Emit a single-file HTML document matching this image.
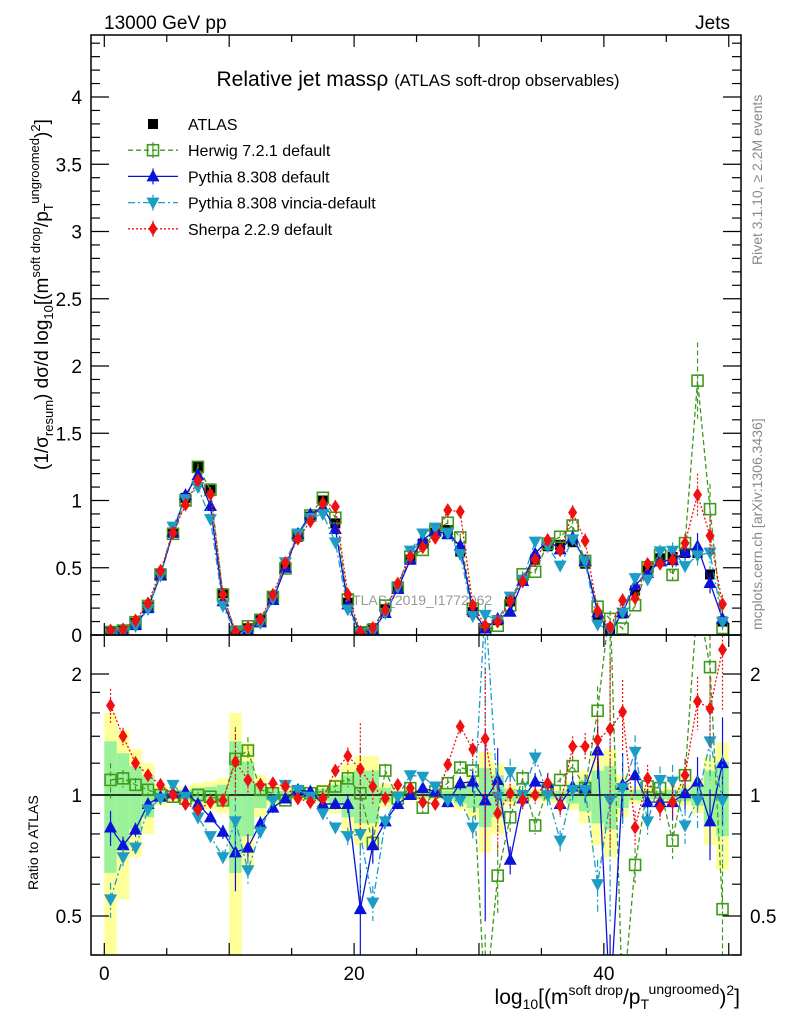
<!DOCTYPE html>
<html><head><meta charset="utf-8"><style>
html,body{margin:0;background:#fff;overflow:hidden;width:786px;height:1024px;}
svg{display:block;font-family:"Liberation Sans",sans-serif;}
</style></head><body>
<svg id="c" width="786" height="1024" xmlns="http://www.w3.org/2000/svg">
<defs>
<clipPath id="cm"><rect x="91" y="35" width="650" height="600"/></clipPath>
<clipPath id="cr"><rect x="91" y="635" width="650" height="320"/></clipPath>
</defs>
<text x="104" y="29" font-size="19">13000 GeV pp</text>
<text x="730" y="29" font-size="19" text-anchor="end">Jets</text>
<text x="418" y="86" font-size="21" text-anchor="middle">Relative jet massρ <tspan font-size="16.5">(ATLAS soft-drop observables)</tspan></text>
<text x="418" y="605" font-size="14" fill="#999" text-anchor="middle">ATLAS_2019_I1772062</text>
<text transform="translate(762,265) rotate(-90)" font-size="14" fill="#888">Rivet 3.1.10, ≥ 2.2M events</text>
<text transform="translate(762,630) rotate(-90)" font-size="14" fill="#888">mcplots.cern.ch [arXiv:1306.3436]</text>
<text transform="translate(48,470) rotate(-90)" font-size="19">(1/σ<tspan font-size="13" dy="5">resum</tspan><tspan dy="-5">) dσ/d log</tspan><tspan font-size="13" dy="5">10</tspan><tspan dy="-5">[(m</tspan><tspan font-size="13" dy="-8">soft drop</tspan><tspan dy="8">/p</tspan><tspan font-size="13" dy="5">T</tspan><tspan font-size="13" dy="-14">ungroomed</tspan><tspan dy="9">)</tspan><tspan font-size="13" dy="-8">2</tspan><tspan dy="8">]</tspan></text>
<text transform="translate(38,890) rotate(-90)" font-size="14">Ratio to ATLAS</text>
<text x="740" y="1004" font-size="21" text-anchor="end">log<tspan font-size="14" dy="5">10</tspan><tspan dy="-5">[(m</tspan><tspan font-size="14" dy="-9">soft drop</tspan><tspan dy="9">/p</tspan><tspan font-size="14" dy="5">T</tspan><tspan font-size="14" dy="-15">ungroomed</tspan><tspan dy="10">)</tspan><tspan font-size="14" dy="-9">2</tspan><tspan dy="9">]</tspan></text>
<g id="bands" clip-path="url(#cr)"></g>
<g id="mainMarks" clip-path="url(#cm)"></g>
<g id="ratioMarks" clip-path="url(#cr)"></g>
<g id="axes"></g>
<g id="legend"></g>
</svg>
<script>
const atlas=[0.02,0.03,0.09,0.21,0.45,0.76,1.02,1.25,1.09,0.31,0.02,0.05,0.11,0.28,0.51,0.73,0.88,1.0,0.83,0.24,0.02,0.05,0.19,0.36,0.56,0.68,0.76,0.78,0.62,0.17,0.05,0.11,0.25,0.41,0.56,0.66,0.67,0.69,0.53,0.13,0.04,0.16,0.33,0.48,0.57,0.58,0.61,0.61,0.45,0.1];
const herwigRatio=[1.09,1.1,1.06,1.03,1.0,0.99,0.98,1.0,0.99,0.97,1.23,1.29,1.03,1.01,0.97,1.02,1.01,1.02,1.05,1.1,1.01,0.76,1.15,0.98,1.04,0.93,1.02,1.07,1.17,1.15,0.3,0.63,0.88,1.1,0.84,1.03,1.09,1.18,1.04,1.62,3.0,0.3,0.67,1.05,1.04,0.77,1.12,3.1,2.08,0.52];
const pythiaRatio=[0.83,0.75,0.82,0.95,0.99,1.01,1.02,0.95,0.88,0.81,0.72,0.74,0.85,0.93,0.98,1.03,1.02,0.95,0.95,0.95,0.52,0.75,0.86,0.95,1.0,1.04,1.02,0.96,1.07,1.08,0.97,1.09,0.69,0.98,1.08,1.07,0.95,1.05,1.04,1.29,0.3,1.06,1.12,0.96,0.96,0.96,1.01,1.08,0.86,1.2];
const vinciaRatio=[0.55,0.7,0.74,0.92,0.98,1.06,0.99,0.88,0.79,0.7,0.86,0.65,0.81,0.97,1.06,1.03,0.99,0.9,0.83,0.79,0.8,0.54,0.86,0.99,1.12,1.11,1.05,0.97,0.97,0.83,3.0,0.99,1.14,1.0,1.24,1.0,0.77,1.03,1.03,0.6,0.97,1.04,1.28,0.86,1.09,1.08,0.84,0.97,1.36,0.97];
const sherpaRatio=[1.67,1.4,1.2,1.12,1.06,1.0,0.95,0.92,0.96,0.97,1.21,1.09,1.06,1.07,1.05,0.98,0.96,0.98,1.15,1.25,1.16,1.05,0.98,1.06,1.04,0.96,0.95,1.19,1.48,1.3,1.38,0.9,1.01,0.97,1.0,1.07,0.94,1.32,1.32,1.37,1.46,1.61,0.83,1.1,0.93,0.96,1.12,1.71,1.64,2.3];
const totErr=[0.6,0.45,0.3,0.2,0.06,0.04,0.05,0.07,0.08,0.1,0.6,0.35,0.12,0.06,0.04,0.03,0.03,0.06,0.1,0.2,0.25,0.25,0.07,0.04,0.03,0.03,0.03,0.04,0.08,0.12,0.28,0.2,0.06,0.04,0.03,0.04,0.04,0.08,0.15,0.25,0.3,0.12,0.05,0.04,0.04,0.05,0.06,0.1,0.25,0.35];
const mcErr=[0.1,0.05,0.04,0.03,0.02,0.02,0.02,0.02,0.02,0.04,0.2,0.08,0.04,0.03,0.02,0.02,0.02,0.02,0.03,0.05,0.3,0.1,0.04,0.03,0.02,0.03,0.03,0.03,0.04,0.06,0.5,0.2,0.08,0.05,0.05,0.06,0.06,0.06,0.08,0.15,0.5,0.2,0.1,0.08,0.08,0.1,0.1,0.15,0.2,0.3];
const xTicks=[0,20,40];
const yTicks=[0,0.5,1,1.5,2,2.5,3,3.5,4];
const rTicks=[0.5,1,2];

const X0=-1.065,X1=50.98,PL=91,PR=741;
const sx=v=>PL+(v-X0)/(X1-X0)*(PR-PL);
const sy=v=>635-v*134.5;
const sr=v=>795-Math.log10(v)*402;
const NS='http://www.w3.org/2000/svg';
function mk(tag,at,par){const e=document.createElementNS(NS,tag);for(const k in at)e.setAttribute(k,at[k]);par.appendChild(e);return e;}
const G=id=>document.getElementById(id);

const bands=G('bands');
atlas.forEach((v,i)=>{
 const e=totErr[i],g=e*0.6;
 const y1=mk('rect',{x:sx(i),width:sx(i+1)-sx(i),y:sr(1+e),height:sr(Math.max(1-e,0.05))-sr(1+e),fill:'#ffff99'},bands);
 
 
 const y2=mk('rect',{x:sx(i),width:sx(i+1)-sx(i),y:sr(1+g),height:sr(1-g)-sr(1+g),fill:'#99f299'},bands);
 
 
});
const ln=mk('line',{x1:PL,x2:PR,y1:sr(1),y2:sr(1),stroke:'#000','stroke-width':1.5},bands);



function marker(par,type,cx,cy,col){
 let e;
 if(type==='sq') e=mk('rect',{x:cx-5,y:cy-5,width:10,height:10,fill:'#000'},par);
 else if(type==='osq') e=mk('rect',{x:cx-5.5,y:cy-5.5,width:11,height:11,fill:'none',stroke:col,'stroke-width':1.6},par);
 else if(type==='tu') e=mk('path',{d:`M${cx},${cy-7}L${cx+6.5},${cy+5}L${cx-6.5},${cy+5}Z`,fill:col},par);
 else if(type==='td') e=mk('path',{d:`M${cx},${cy+7}L${cx+6.5},${cy-5}L${cx-6.5},${cy-5}Z`,fill:col},par);
 else e=mk('path',{d:`M${cx},${cy-7}L${cx+4.5},${cy}L${cx},${cy+7}L${cx-4.5},${cy}Z`,fill:col},par);
 return e;
}
const series=[
 {name:'herwig',r:herwigRatio,col:'#3f9a1c',dash:'5,3',m:'osq'},
 {name:'pythia',r:pythiaRatio,col:'#0a14d8',dash:'',m:'tu'},
 {name:'vincia',r:vinciaRatio,col:'#1b9dc6',dash:'7,3,2,3',m:'td'},
 {name:'sherpa',r:sherpaRatio,col:'#f01010',dash:'2,2',m:'dia'}
];
const mm=G('mainMarks'),rm=G('ratioMarks');
atlas.forEach((v,i)=>{
 const e=marker(mm,'sq',sx(i+0.5),sy(v));
 
 
});
series.forEach(s=>{
 const vals=atlas.map((a,i)=>a*s.r[i]);
 const pm=vals.map((v,i)=>`${sx(i+0.5)},${sy(v)}`).join(' ');
 const pl=mk('polyline',{points:pm,fill:'none',stroke:s.col,'stroke-width':1.3,'stroke-dasharray':s.dash},mm);
 
 
 const pr=s.r.map((v,i)=>`${sx(i+0.5)},${sr(v)}`).join(' ');
 const rl=mk('polyline',{points:pr,fill:'none',stroke:s.col,'stroke-width':1.3,'stroke-dasharray':s.dash},rm);
 
 
 vals.forEach((v,i)=>{
  const cx=sx(i+0.5),err=mcErr[i];
  const eb=mk('line',{x1:cx,x2:cx,y1:sy(v*(1+err)),y2:sy(v*(1-err)),stroke:s.col,'stroke-width':1.2,'stroke-dasharray':s.dash},mm);
  
  
  const m=marker(mm,s.m,cx,sy(v),s.col);
  
  
  const rv=s.r[i];
  const re=mk('line',{x1:cx,x2:cx,y1:sr(rv*(1+err)),y2:sr(Math.max(rv*(1-err),0.05)),stroke:s.col,'stroke-width':1.2,'stroke-dasharray':s.dash},rm);
  
  
  const rmk=marker(rm,s.m,cx,sr(rv),s.col);
  
  
 });
});

const ax=G('axes');
const f1=mk('rect',{x:PL,y:35,width:PR-PL,height:600,fill:'none',stroke:'#000','stroke-width':1.5},ax);


const f2=mk('rect',{x:PL,y:635,width:PR-PL,height:320,fill:'none',stroke:'#000','stroke-width':1.5},ax);


function tk(x1,y1,x2,y2){mk('line',{x1,y1,x2,y2,stroke:'#000','stroke-width':1.2},ax);}
for(let v=0;v<=50;v+=5){const x=sx(v),L=v%10===0?12:7;
 tk(x,635,x,635-L);tk(x,35,x,35+L);tk(x,635,x,635+L);tk(x,955,x,955-L);}
xTicks.forEach(v=>{const t=mk('text',{x:sx(v),y:980,'font-size':19,'text-anchor':'middle'},ax);t.textContent=v;
 
 });
for(let k=0;k<=44;k++){const v=k*0.1,y=sy(v);if(y<36)break;const L=k%5===0?18:9;tk(PL,y,PL+L,y);tk(PR,y,PR-L,y);}
yTicks.forEach(v=>{const t=mk('text',{x:82,y:sy(v)+7,'font-size':19,'text-anchor':'end'},ax);t.textContent=v;
 
 });
[0.4,0.5,0.6,0.7,0.8,0.9,1,1.2,1.4,1.6,1.8,2].forEach(v=>{const y=sr(v);const L=(v===0.5||v===1||v===2)?18:9;tk(PL,y,PL+L,y);tk(PR,y,PR-L,y);});
rTicks.forEach(v=>{
 const t=mk('text',{x:82,y:sr(v)+7,'font-size':19,'text-anchor':'end'},ax);t.textContent=v;
 
 
 const t2=mk('text',{x:750,y:sr(v)+7,'font-size':19},ax);t2.textContent=v;
 
 
});

const lg=G('legend');
const leg=[{t:'ATLAS',m:'sq',col:'#000'},{t:'Herwig 7.2.1 default',...series[0]},{t:'Pythia 8.308 default',...series[1]},{t:'Pythia 8.308 vincia-default',...series[2]},{t:'Sherpa 2.2.9 default',...series[3]}];
leg.forEach((l,i)=>{
 const y=124+i*26.2;
 const g=mk('g',{},lg);
 
 
 if(i>0){mk('line',{x1:128,x2:178,y1:y,y2:y,stroke:l.col,'stroke-width':1.3,'stroke-dasharray':l.dash},g);
  mk('line',{x1:153,x2:153,y1:y-8,y2:y+8,stroke:l.col,'stroke-width':1.2},g);}
 marker(g,l.m,153,y,l.col);
 const t=mk('text',{x:188,y:y+6,'font-size':16},g);t.textContent=l.t;
});
</script>
</body></html>
